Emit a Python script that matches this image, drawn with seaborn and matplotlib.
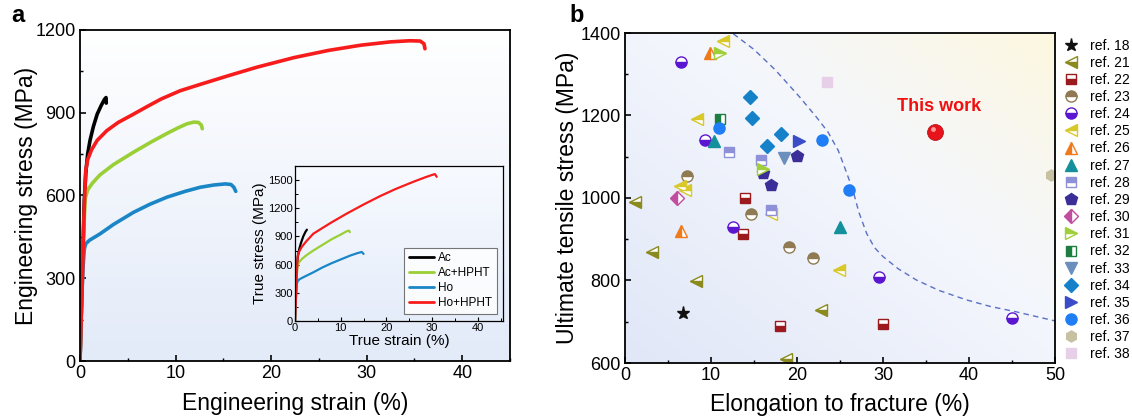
import numpy as np
import pandas as pd
import matplotlib
matplotlib.use("Agg")
import matplotlib.pyplot as plt
import matplotlib.transforms as mtransforms
from matplotlib.lines import Line2D
from matplotlib.ticker import MultipleLocator
import seaborn as sns

# ---------------- Panel a data (engineering curves) ----------------
ac_eng_strain = [0, 0.15, 0.3, 0.45, 0.6, 0.8, 1.05, 1.4, 1.8, 2.2, 2.55, 2.72, 2.75]
ac_eng_stress = [0, 200, 400, 580, 680, 750, 800, 850, 895, 925, 948, 955, 935]
acH_eng_strain = [0, 0.2, 0.4, 0.55, 0.8, 1.3, 2.1, 3.5, 5.6, 7.5, 9.1, 10.3, 11.2, 11.9, 12.4, 12.7, 12.8]
acH_eng_stress = [0, 250, 480, 590, 620, 645, 675, 712, 757, 795, 825, 846, 860, 866, 865, 855, 842]
ho_eng_strain = [0, 0.15, 0.3, 0.45, 0.6, 1.0, 2.1, 3.5, 5.6, 7.3, 9.1, 11.0, 12.6, 14.0, 15.2, 15.8, 16.1, 16.3]
ho_eng_stress = [0, 190, 330, 405, 425, 438, 461, 495, 539, 568, 594, 615, 630, 638, 642, 640, 630, 615]
hoH_eng_strain = [0, 0.25, 0.45, 0.6, 0.8, 1.2, 1.8, 2.8, 4.0, 5.5, 7.0, 8.5, 10.5, 12.6, 15.4, 18.5,
                  22.4, 26.0, 29.4, 32.5, 34.5, 35.6, 36.0, 36.1]
hoH_eng_stress = [0, 300, 560, 690, 730, 765, 800, 835, 865, 893, 922, 950, 980, 1003, 1033, 1065,
                  1100, 1126, 1145, 1157, 1161, 1160, 1150, 1132]

# ---------------- Inset data (true curves) ----------------
ac_true_strain = [0, 0.1, 0.25, 0.4, 0.6, 0.9, 1.3, 1.8, 2.3, 2.6]
ac_true_stress = [0, 150, 350, 550, 680, 760, 830, 900, 950, 972]
acH_true_strain = [0, 0.2, 0.4, 0.55, 0.8, 1.5, 2.5, 4.0, 6.0, 8.0, 10.0, 11.3, 11.8, 12.0]
acH_true_stress = [0, 250, 480, 590, 620, 660, 700, 750, 810, 870, 920, 955, 962, 946]
ho_true_strain = [0, 0.15, 0.3, 0.45, 0.6, 1.0, 2.0, 4.0, 6.0, 8.0, 10.0, 12.0, 13.5, 14.6, 15.0]
ho_true_stress = [0, 190, 330, 405, 425, 445, 470, 518, 570, 615, 655, 695, 720, 735, 714]
hoH_true_strain = [0, 0.25, 0.45, 0.6, 0.8, 1.5, 2.5, 4.0, 6.0, 8.0, 11.3, 15.0, 18.6, 22.0, 25.9,
                   28.5, 30.0, 30.6, 31.0]
hoH_true_stress = [0, 300, 560, 690, 730, 790, 850, 929, 990, 1050, 1143, 1240, 1329, 1405, 1482,
                   1530, 1555, 1564, 1535]

curve_names = ["Ac", "Ac+HPHT", "Ho", "Ho+HPHT"]

# ---------------- Panel b data (literature comparison) ----------------
ref_labels = ["ref. 18", "ref. 21", "ref. 22", "ref. 23", "ref. 24", "ref. 25", "ref. 26", "ref. 27",
              "ref. 28", "ref. 29", "ref. 30", "ref. 31", "ref. 32", "ref. 33", "ref. 34", "ref. 35",
              "ref. 36", "ref. 37", "ref. 38"]
point_ref = ["ref. 18",
             "ref. 21", "ref. 21", "ref. 21", "ref. 21", "ref. 21",
             "ref. 22", "ref. 22", "ref. 22", "ref. 22",
             "ref. 23", "ref. 23", "ref. 23", "ref. 23",
             "ref. 24", "ref. 24", "ref. 24", "ref. 24", "ref. 24",
             "ref. 25", "ref. 25", "ref. 25", "ref. 25", "ref. 25", "ref. 25",
             "ref. 26", "ref. 26",
             "ref. 27", "ref. 27",
             "ref. 28", "ref. 28", "ref. 28",
             "ref. 29", "ref. 29", "ref. 29",
             "ref. 30",
             "ref. 31", "ref. 31",
             "ref. 32",
             "ref. 33",
             "ref. 34", "ref. 34", "ref. 34", "ref. 34",
             "ref. 35",
             "ref. 36", "ref. 36", "ref. 36",
             "ref. 37",
             "ref. 38"]
point_elong = [6.7,
               1.2, 3.1, 8.3, 22.8, 18.7,
               14.0, 13.7, 18.0, 30.0,
               7.2, 14.6, 19.1, 21.9,
               6.5, 9.3, 12.5, 29.5, 45.0,
               11.4, 8.4, 6.4, 7.0, 17.0, 24.9,
               9.9, 6.5,
               10.4, 25.0,
               12.1, 15.8, 17.0,
               20.0, 16.0, 17.0,
               6.1,
               11.1, 16.1,
               11.0,
               18.5,
               14.5, 14.8, 18.1, 16.5,
               20.2,
               10.9, 22.9, 26.0,
               49.5,
               23.5]
point_uts = [722,
             990, 870, 799, 728, 609,
             1000, 913, 690, 694,
             1054, 960, 880, 854,
             1330, 1141, 929, 809, 710,
             1381, 1191, 1030, 1020, 961, 825,
             1352, 921,
             1137, 930,
             1111, 1092, 971,
             1102, 1060, 1032,
             999,
             1351, 1070,
             1191,
             1098,
             1246, 1193, 1155, 1127,
             1139,
             1170, 1141, 1019,
             1055,
             1280]
this_work_elong = [36.0]
this_work_uts = [1161]
trend_elong = [12.6, 15.0, 17.5, 20.3, 22.3, 23.6, 24.8, 25.7, 26.5, 27.2, 28.1, 29.0, 30.0, 31.8,
               33.9, 36.5, 39.7, 42.5, 45.5, 50.0]
trend_uts = [1398, 1360, 1310, 1245, 1195, 1160, 1115, 1065, 1019, 965, 914, 880, 858, 828,
             801, 776, 753, 737, 724, 702]

# ---------------- styles ----------------
curve_colors = {"Ac": "#000000", "Ac+HPHT": "#9acf35", "Ho": "#1b86c6", "Ho+HPHT": "#f81b1b"}
ref_styles = {
    "ref. 18": ("*", "#111111", "full", 9.5),
    "ref. 21": ("<", "#8a8a1e", "bottom", 8),
    "ref. 22": ("s", "#9a1a1e", "bottom", 7),
    "ref. 23": ("o", "#8f7a52", "top", 8),
    "ref. 24": ("o", "#5b16d2", "bottom", 8),
    "ref. 25": ("<", "#d8c82a", "top", 8),
    "ref. 26": ("^", "#ee7a1c", "left", 8),
    "ref. 27": ("^", "#14909c", "full", 8),
    "ref. 28": ("s", "#8e90d8", "top", 7),
    "ref. 29": ("p", "#3b2e98", "full", 9),
    "ref. 30": ("D", "#c14d9f", "left", 7),
    "ref. 31": (">", "#9fcf3a", "top", 8),
    "ref. 32": ("s", "#1c7e40", "left", 7),
    "ref. 33": ("v", "#6b8ebd", "full", 8.5),
    "ref. 34": ("D", "#1581c8", "full", 7),
    "ref. 35": (">", "#3a4cc8", "full", 8.5),
    "ref. 36": ("o", "#1f7df5", "full", 8),
    "ref. 37": ("h", "#c6c1a0", "full", 8),
    "ref. 38": ("s", "#e8cfe8", "full", 7),
}

sns.set_theme(style="ticks")
plt.rcParams['font.family'] = ['Liberation Sans', 'DejaVu Sans']
plt.rcParams['axes.edgecolor'] = 'black'
plt.rcParams['xtick.color'] = 'black'
plt.rcParams['ytick.color'] = 'black'
plt.rcParams['text.color'] = 'black'
plt.rcParams['axes.labelcolor'] = 'black'

W, H = 1132, 419
fig = plt.figure(figsize=(W / 100, H / 100), dpi=100)
axa = fig.add_axes([80 / W, (H - 361) / H, 430 / W, 331 / H])
axb = fig.add_axes([625 / W, (H - 363) / H, 430 / W, 330 / H])
axi = fig.add_axes([295 / W, (H - 321) / H, 208 / W, 155 / H])


def bg(ax, img):
    ax.imshow(img, extent=[0, 1, 0, 1], transform=ax.transAxes, aspect='auto',
              zorder=0, interpolation='bicubic')


# panel a background: white top -> light blue bottom
n = 200
t = np.linspace(0, 1, n)[:, None, None]
top_c = np.array([1.0, 1.0, 1.0])
bot_c = np.array([0.89, 0.92, 0.975])
img_a = (1 - t) * top_c + t * bot_c
img_a = np.repeat(img_a, 2, axis=1)
bg(axa, img_a)

# inset background
img_i = (1 - t) * np.array([0.97, 0.98, 1.0]) + t * np.array([0.90, 0.93, 0.98])
img_i = np.repeat(img_i, 2, axis=1)
bg(axi, img_i)

# panel b background: blue bottom-left, white middle, yellow top-right
X, Y = np.meshgrid(np.linspace(0, 1, 200), np.linspace(1, 0, 200))
blue = np.array([0.88, 0.905, 0.97])
white = np.array([0.955, 0.965, 0.99])
yellow = np.array([0.995, 0.972, 0.875])
s = (X + Y) / 2
w1 = np.clip(s / 0.55, 0, 1)[..., None]
base = (1 - w1) * blue + w1 * white
w2 = np.clip((s - 0.55) / 0.45, 0, 1)[..., None] ** 1.3
img_b = (1 - w2) * base + w2 * yellow
bg(axb, img_b)

# ---------------- panel a curves ----------------
eng = pd.concat([
    pd.DataFrame({"strain": ac_eng_strain, "stress": ac_eng_stress, "sample": "Ac"}),
    pd.DataFrame({"strain": acH_eng_strain, "stress": acH_eng_stress, "sample": "Ac+HPHT"}),
    pd.DataFrame({"strain": ho_eng_strain, "stress": ho_eng_stress, "sample": "Ho"}),
    pd.DataFrame({"strain": hoH_eng_strain, "stress": hoH_eng_stress, "sample": "Ho+HPHT"}),
], ignore_index=True)
sns.lineplot(data=eng, x="strain", y="stress", hue="sample", palette=curve_colors,
             sort=False, estimator=None, linewidth=2.6, legend=False, ax=axa, zorder=3)
axa.set_xlim(0, 45)
axa.set_ylim(0, 1200)
axa.xaxis.set_major_locator(MultipleLocator(10))
axa.xaxis.set_minor_locator(MultipleLocator(5))
axa.yaxis.set_major_locator(MultipleLocator(300))
axa.yaxis.set_minor_locator(MultipleLocator(150))
axa.set_xlabel("Engineering strain (%)", fontsize=16.5, labelpad=7)
axa.set_ylabel("Engineering stress (MPa)", fontsize=16.5, labelpad=-2)

# ---------------- inset ----------------
tru = pd.concat([
    pd.DataFrame({"strain": ac_true_strain, "stress": ac_true_stress, "sample": "Ac"}),
    pd.DataFrame({"strain": acH_true_strain, "stress": acH_true_stress, "sample": "Ac+HPHT"}),
    pd.DataFrame({"strain": ho_true_strain, "stress": ho_true_stress, "sample": "Ho"}),
    pd.DataFrame({"strain": hoH_true_strain, "stress": hoH_true_stress, "sample": "Ho+HPHT"}),
], ignore_index=True)
sns.lineplot(data=tru, x="strain", y="stress", hue="sample", palette=curve_colors,
             sort=False, estimator=None, linewidth=1.6, legend=False, ax=axi, zorder=3)
axi.set_xlim(0, 45.5)
axi.set_ylim(0, 1650)
axi.xaxis.set_major_locator(MultipleLocator(10))
axi.xaxis.set_minor_locator(MultipleLocator(5))
axi.yaxis.set_major_locator(MultipleLocator(300))
axi.yaxis.set_minor_locator(MultipleLocator(150))
axi.set_xlabel("True strain (%)", fontsize=11, labelpad=1)
axi.set_ylabel("True stress (MPa)", fontsize=11, labelpad=1)
handles_i = [Line2D([], [], color=curve_colors[k], lw=2) for k in curve_names]
leg_i = axi.legend(handles_i, curve_names, loc="lower right", bbox_to_anchor=(0.97, 0.045),
                   borderaxespad=0, fontsize=8.5, frameon=True, fancybox=False,
                   handlelength=2.2, handletextpad=0.3, labelspacing=0.25, borderpad=0.4)
leg_i.get_frame().set_edgecolor('#555555')
leg_i.get_frame().set_linewidth(0.8)
leg_i.get_frame().set_facecolor('white')

# ---------------- panel b ----------------
pts = pd.DataFrame({"ref": point_ref, "elong": point_elong, "uts": point_uts})
sns.lineplot(x=trend_elong, y=trend_uts, sort=False, estimator=None, color="#5a70c4",
             linewidth=1.0, linestyle=(0, (4, 3)), ax=axb, zorder=2)
handles_b = []
for r in ref_labels:
    m, c, fs, ms = ref_styles[r]
    sub = pts[pts["ref"] == r]
    kw = dict(linestyle="none", marker=m, markersize=ms, color=c, markeredgecolor=c,
              markeredgewidth=1.0, fillstyle=fs, markerfacecoloralt="white", zorder=4)
    axb.plot(sub["elong"], sub["uts"], **kw)
    handles_b.append(Line2D([], [], **kw))

tw = pd.DataFrame({"elong": this_work_elong, "uts": this_work_uts})
sns.scatterplot(data=tw, x="elong", y="uts", s=130, color="#e8141c", edgecolor="#b80f14",
                linewidth=0.6, ax=axb, zorder=5, legend=False)
hl = mtransforms.offset_copy(axb.transData, fig=fig, x=-1.5, y=1.8, units='points')
axb.plot(this_work_elong, this_work_uts, "o", ms=3.5, color="#ff9a9a", mew=0,
         transform=hl, zorder=6)
axb.text(this_work_elong[0] + 0.5, this_work_uts[0] + 62, "This work", color="#f01010",
         fontsize=13, fontweight="bold", ha="center", va="center", zorder=6)

axb.set_xlim(0, 50)
axb.set_ylim(600, 1400)
axb.xaxis.set_major_locator(MultipleLocator(10))
axb.xaxis.set_minor_locator(MultipleLocator(5))
axb.yaxis.set_major_locator(MultipleLocator(200))
axb.yaxis.set_minor_locator(MultipleLocator(100))
axb.set_xlabel("Elongation to fracture (%)", fontsize=16.5, labelpad=6)
axb.set_ylabel("Ultimate tensile stress (MPa)", fontsize=16.5, labelpad=1)
axb.legend(handles_b, ref_labels, loc="upper left", bbox_to_anchor=(1.005, 1.0),
           borderaxespad=0.2, frameon=False, fontsize=10, handlelength=1.2,
           handletextpad=0.8, labelspacing=0.227, borderpad=0.2)

for ax, ls, lw in [(axa, 13, 1.3), (axb, 13, 1.3), (axi, 8, 0.9)]:
    for sp in ax.spines.values():
        sp.set_visible(True)
        sp.set_linewidth(lw)
        sp.set_color("black")
        sp.set_zorder(10)
    ax.tick_params(which="major", direction="in", length=4 if ax is not axi else 3,
                   width=lw * 0.9, labelsize=ls, pad=3 if ax is not axi else 1.5,
                   top=False, right=False)
    ax.tick_params(which="minor", direction="in", length=2.5 if ax is not axi else 2,
                   width=lw * 0.8, top=False, right=False)
    ax.grid(False)

fig.text(18 / W, 1 - 15 / H, "a", fontsize=17, fontweight="bold", ha="center", va="center")
fig.text(577 / W, 1 - 15 / H, "b", fontsize=17, fontweight="bold", ha="center", va="center")

fig.savefig("out.png", dpi=100)
